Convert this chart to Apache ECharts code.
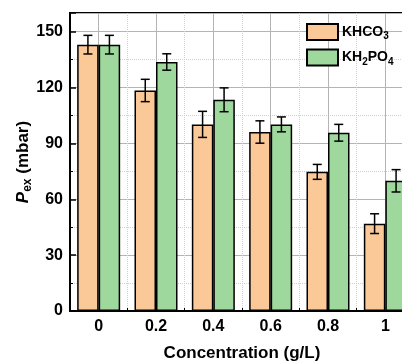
<!DOCTYPE html>
<html>
<head>
<meta charset="utf-8">
<script src="https://cdn.jsdelivr.net/npm/echarts@6/dist/echarts.min.js"></script>
<style>
  html, body { margin: 0; padding: 0; background: #fff; }
  #chart { width: 402px; height: 362px; }
</style>
</head>
<body>
<div id="chart"></div>
<script>
// 数据
var categories = ['0', '0.2', '0.4', '0.6', '0.8', '1'];
var khco3 = [143, 118.4, 100.2, 96.1, 74.7, 46.9];
var khco3Err = [5, 6, 7, 6, 4, 5.3];
var kh2po4 = [143, 133.7, 113.4, 100.2, 95.7, 69.9];
var kh2po4Err = [5, 4.4, 6.4, 4, 4.5, 6];
var yTicks = [0, 30, 60, 90, 120, 150];

var font = '"Liberation Sans", Arial, sans-serif';
var barRatio = 0.375; // 单根柱宽 / 类目宽

// 误差棒数据 [类目下标, 下限, 上限]
function errData (vals, errs) {
  return vals.map(function (v, i) { return [i, v - errs[i], v + errs[i]]; });
}

function errSeries (name, vals, errs, side) {
  return {
    name: name + '_err',
    type: 'custom',
    xAxisIndex: 0,
    z: 5,
    renderItem: function (params, api) {
      var band = api.size([1, 0])[0];
      var dx = side * band * barRatio / 2;
      var hi = api.coord([api.value(0), api.value(2)]);
      var lo = api.coord([api.value(0), api.value(1)]);
      var x = hi[0] + dx, cap = 4.5;
      var style = { stroke: '#000', lineWidth: 1.5 };
      return {
        type: 'group',
        children: [
          { type: 'line', shape: { x1: x, y1: hi[1], x2: x, y2: lo[1] }, style: style },
          { type: 'line', shape: { x1: x - cap, y1: hi[1], x2: x + cap, y2: hi[1] }, style: style },
          { type: 'line', shape: { x1: x - cap, y1: lo[1], x2: x + cap, y2: lo[1] }, style: style }
        ]
      };
    },
    data: errData(vals, errs)
  };
}

var chart = echarts.init(document.getElementById('chart'));
var option = {
  animation: false,
  textStyle: { fontFamily: font },
  grid: {
    left: 70, top: 13, width: 344, height: 298,
    outerBoundsMode: 'none',
    show: true, borderColor: '#000', borderWidth: 2, backgroundColor: 'transparent'
  },
  legend: {
    orient: 'vertical',
    left: 301, top: 18,
    itemWidth: 31, itemHeight: 16, itemGap: 7,
    icon: 'rect',
    data: ['KHCO3', 'KH2PO4'],
    formatter: function (name) {
      return name === 'KHCO3' ? '{a|KHCO}{s|3}' : '{a|KH}{s|2}{a|PO}{s|4}';
    },
    textStyle: {
      padding: [0, 0, 0, -1],
      rich: {
        a: { fontFamily: font, fontWeight: 'bold', fontSize: 14, color: '#000' },
        s: { fontFamily: font, fontWeight: 'bold', fontSize: 10, color: '#000', padding: [9, 0, 0, 0] }
      }
    }
  },
  xAxis: [{
    type: 'category',
    data: categories,
    position: 'bottom',
    axisLine: { onZero: false, lineStyle: { color: '#000', width: 2 } },
    axisTick: { show: false },
    splitLine: { show: false },
    axisLabel: { color: '#000', fontWeight: 'bold', fontSize: 16, margin: 8, fontFamily: font },
    name: 'Concentration (g/L)',
    nameLocation: 'middle',
    nameGap: 34,
    nameTextStyle: { color: '#000', fontWeight: 'bold', fontSize: 17, fontFamily: font }
  }, {
    // 网格用的辅助轴
    type: 'value',
    position: 'bottom',
    min: -0.1, max: 1.1, interval: 0.2,
    axisLine: { show: false, onZero: false },
    axisLabel: { show: false },
    axisTick: { show: true, inside: true, length: 3, lineStyle: { color: '#000', width: 1 } },
    splitLine: { show: true, lineStyle: { color: '#d0d0d0', type: 'dotted', width: 1 } },
    minorTick: { show: false, splitNumber: 2 },
    minorSplitLine: { show: true, lineStyle: { color: '#b4b4b4', width: 1 } }
  }],
  yAxis: {
    type: 'value',
    min: 0, max: 160, interval: 30,
    axisLine: { show: true, onZero: false, lineStyle: { color: '#000', width: 2 } },
    axisTick: { show: true, inside: true, length: 6, lineStyle: { color: '#000', width: 1.5 } },
    minorTick: { show: true, splitNumber: 2, length: 3, lineStyle: { color: '#000', width: 1 } },
    splitLine: { show: true, lineStyle: { color: '#b4b4b4', width: 1 } },
    minorSplitLine: { show: true, lineStyle: { color: '#d0d0d0', type: 'dotted', width: 1 } },
    axisLabel: {
      color: '#000', fontWeight: 'bold', fontSize: 16, margin: 7, fontFamily: font,
      showMaxLabel: false,
      formatter: function (v) { return yTicks.indexOf(v) >= 0 ? String(v) : ''; }
    },
    name: '{i|P}{s|ex}{n| (mbar)}',
    nameLocation: 'middle',
    nameRotate: 90,
    nameGap: 36,
    nameMoveOverlap: false,
    nameTextStyle: {
      rich: {
        i: { fontFamily: font, fontWeight: 'bold', fontStyle: 'italic', fontSize: 17, color: '#000' },
        s: { fontFamily: font, fontWeight: 'bold', fontSize: 12, color: '#000', padding: [9, 0, 0, 0] },
        n: { fontFamily: font, fontWeight: 'bold', fontSize: 17, color: '#000' }
      }
    }
  },
  series: [{
    name: 'KHCO3',
    type: 'bar',
    xAxisIndex: 0,
    barGap: '0%',
    barCategoryGap: '25%',
    itemStyle: { color: '#fbc898', borderColor: '#000', borderWidth: 1.5 },
    data: khco3
  }, {
    name: 'KH2PO4',
    type: 'bar',
    xAxisIndex: 0,
    barGap: '0%',
    barCategoryGap: '25%',
    itemStyle: { color: '#9ed89c', borderColor: '#000', borderWidth: 1.5 },
    data: kh2po4
  },
  errSeries('KHCO3', khco3, khco3Err, -1),
  errSeries('KH2PO4', kh2po4, kh2po4Err, 1)]
};
chart.setOption(option);
</script>
</body>
</html>
